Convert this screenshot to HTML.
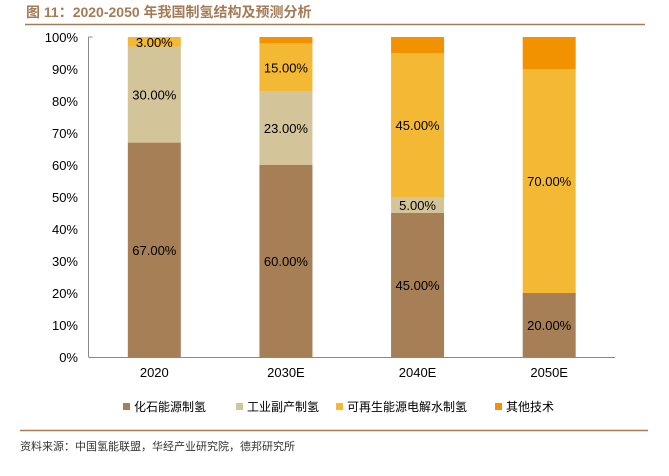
<!DOCTYPE html>
<html><head><meta charset="utf-8"><style>
body{margin:0;background:#fff;width:669px;height:471px;overflow:hidden;font-family:"Liberation Sans","Noto Sans CJK SC",sans-serif}
</style></head><body>
<svg id="c" width="669" height="471" xmlns="http://www.w3.org/2000/svg">
<text x="26" y="17" font-size="14" font-weight="bold" fill="#a47b55" font-family="Liberation Sans,Noto Sans CJK SC,sans-serif">图 11：2020-2050 年我国制氢结构及预测分析</text>
<line x1="25" y1="24.5" x2="645" y2="24.5" stroke="#a47b55" stroke-width="1.5"/>
<g id="plot"></g>
<line x1="20" y1="430.5" x2="648" y2="430.5" stroke="#a47b55" stroke-width="1.5"/>
<text x="20" y="450" font-size="11" fill="#333" font-family="Liberation Sans,Noto Sans CJK SC,sans-serif">资料来源：中国氢能联盟，华经产业研究院，德邦研究所</text>
</svg>
<script>
const categories=["2020","2030E","2040E","2050E"];
const fossil=[67,60,45,20];
const industrial=[30,23,5,0];
const renewable=[3,15,45,70];
const other=[0,2,5,10];
const seriesNames=["化石能源制氢","工业副产制氢","可再生能源电解水制氢","其他技术"];
const yTicks=[0,10,20,30,40,50,60,70,80,90,100];
const series=[fossil,industrial,renewable,other];
const colors=["#a67f57","#d4c49a","#f4b934","#f39200"];
const NS="http://www.w3.org/2000/svg";
const g=document.getElementById('plot');
const x0=88.5,x1=615,yTop=37,yBot=357;
const y=v=>yBot-(yBot-yTop)*v/100;
const band=(x1-x0)/categories.length;
const bw=53;
function mk(t,a){const e=document.createElementNS(NS,t);for(const k in a)e.setAttribute(k,a[k]);g.appendChild(e);return e;}
let ax=mk('line',{x1:x0,y1:yTop,x2:x0,y2:yBot,stroke:'#888'});


let tk=mk('line',{x1:x0,y1:yTop,x2:x0+4,y2:yTop,stroke:'#888'});


yTicks.forEach(t=>{const e=mk('text',{x:78,y:y(t)+5,'text-anchor':'end','font-size':13,fill:'#000'});e.textContent=t+'%';

});
categories.forEach((c,i)=>{
 const cx=x0+band*(i+0.5);let cum=0;
 series.forEach((s,j)=>{
  const v=s[i];if(v<=0)return;
  const r=mk('rect',{x:cx-bw/2,y:y(cum+v),width:bw,height:y(cum)-y(cum+v),fill:colors[j]});
  
  
  if(j<3){const t=mk('text',{x:cx,y:(y(cum)+y(cum+v))/2+5,'text-anchor':'middle','font-size':13,fill:'#000'});t.textContent=v.toFixed(2)+'%';
  
  }
  cum+=v;});
 const l=mk('text',{x:cx,y:yBot+20,'text-anchor':'middle','font-size':13,fill:'#000'});l.textContent=c;
 
 
});
let xa=mk('line',{x1:x0,y1:yBot+0.5,x2:x1,y2:yBot+0.5,stroke:'#888'});


const lx=[123,236,336,495];
seriesNames.forEach((n,j)=>{
 const r=mk('rect',{x:lx[j],y:403,width:7,height:7,fill:colors[j]});
 
 
 const t=mk('text',{x:lx[j]+11,y:411,'font-size':12,fill:'#000'});t.textContent=n;
 
 
});
</script>
</body></html>
